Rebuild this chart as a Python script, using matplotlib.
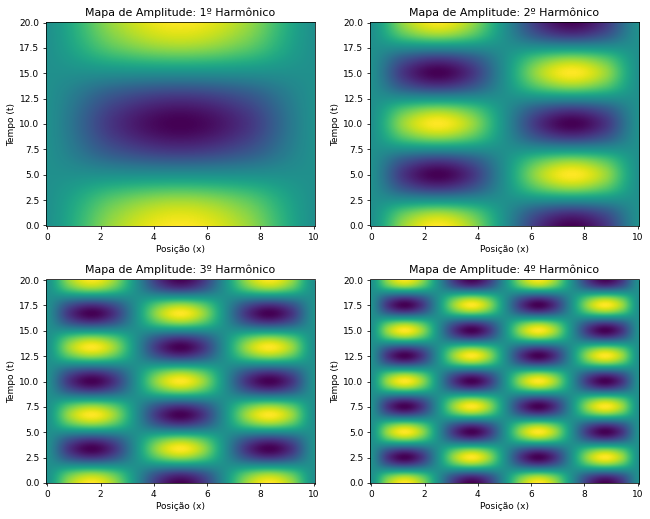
import numpy as np
import matplotlib
matplotlib.use('Agg')
import matplotlib.pyplot as plt

# amplitude read along x at the crest row, and along t at the crest column
x_levels_1 = [0, 0.71, 1, 0.71, 0]
t_levels_1 = [1, 0.71, 0, -0.71, -1, -0.71, 0, 0.71, 1]

x_levels_2 = [0, 0.71, 1, 0.71, 0, -0.71, -1, -0.71, 0]
t_levels_2 = [1, 0.71, 0, -0.71, -1, -0.71, 0, 0.71, 1,
              0.71, 0, -0.71, -1, -0.71, 0, 0.71, 1]

x_levels_3 = [0, 0.71, 1, 0.71, 0, -0.71, -1, -0.71, 0, 0.71, 1, 0.71, 0]
t_levels_3 = [1, 0.71, 0, -0.71, -1, -0.71, 0, 0.71, 1,
              0.71, 0, -0.71, -1, -0.71, 0, 0.71, 1,
              0.71, 0, -0.71, -1, -0.71, 0, 0.71, 1]

x_levels_4 = [0, 0.71, 1, 0.71, 0, -0.71, -1, -0.71, 0,
              0.71, 1, 0.71, 0, -0.71, -1, -0.71, 0]
t_levels_4 = [1, 0.71, 0, -0.71, -1, -0.71, 0, 0.71, 1,
              0.71, 0, -0.71, -1, -0.71, 0, 0.71, 1,
              0.71, 0, -0.71, -1, -0.71, 0, 0.71, 1,
              0.71, 0, -0.71, -1, -0.71, 0, 0.71, 1]

titles = ['Mapa de Amplitude: 1º Harmônico', 'Mapa de Amplitude: 2º Harmônico',
          'Mapa de Amplitude: 3º Harmônico', 'Mapa de Amplitude: 4º Harmônico']
x_levels = [x_levels_1, x_levels_2, x_levels_3, x_levels_4]
t_levels = [t_levels_1, t_levels_2, t_levels_3, t_levels_4]

W, H = 650, 519
fig, axes = plt.subplots(2, 2, figsize=(W/100, H/100), dpi=100)
fig.subplots_adjust(left=46/W, right=639/W, top=1-22/H, bottom=1-483.5/H,
                    wspace=55/269, hspace=53.5/204)

for ax, title, xl, tl in zip(axes.flat, titles, x_levels, t_levels):
    field = np.outer(tl, xl)
    # half a sample past each side so the samples sit on their real x, t
    dx = 10 / (len(xl) - 1)
    dt = 20 / (len(tl) - 1)
    ax.imshow(field, origin='lower', aspect='auto', cmap='viridis', vmin=-1, vmax=1,
              interpolation='catrom',
              extent=(-dx/2, 10 + dx/2, -dt/2, 20 + dt/2))
    ax.set_xlim(-0.05, 10.05)
    ax.set_ylim(-0.05, 20.05)
    ax.set_yticks(np.arange(0, 20.1, 2.5))
    ax.set_xticks([0, 2, 4, 6, 8, 10])
    ax.set_title(title, fontsize=7.9, pad=4.5)
    ax.set_xlabel('Posição (x)', fontsize=6.5, labelpad=2.4)
    ax.set_ylabel('Tempo (t)', fontsize=6.5, labelpad=2.4)
    ax.tick_params(labelsize=6.5, length=2.4, width=0.55, pad=2.3)
    for s in ax.spines.values():
        s.set_linewidth(0.55)

fig.savefig('out.png', dpi=100)
